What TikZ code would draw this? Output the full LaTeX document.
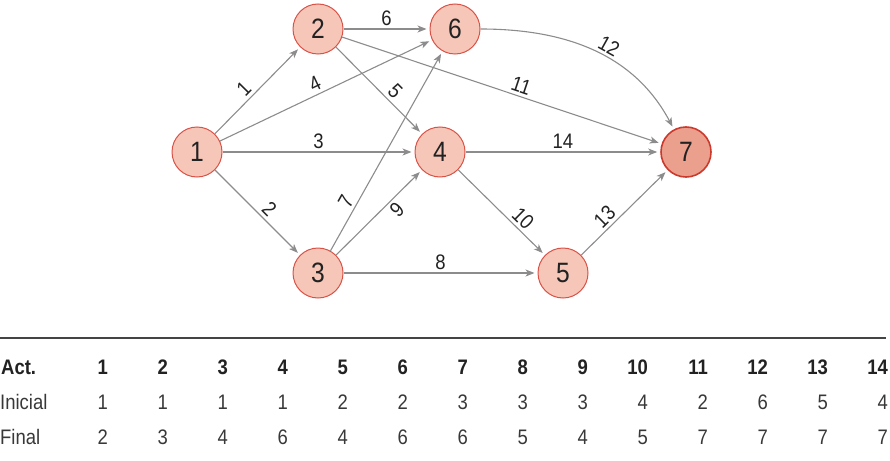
\documentclass[tikz,border=0pt]{standalone}
\usepackage{fontspec}
\setmainfont{Liberation Sans}[FakeStretch=0.88]
\usetikzlibrary{arrows.meta}
\definecolor{nfill}{HTML}{F6C7B8}
\definecolor{nborder}{HTML}{DA5146}
\definecolor{nsevfill}{HTML}{EBA08D}
\definecolor{nsevborder}{HTML}{CC3A2E}
\definecolor{edgec}{HTML}{8C8C8C}
\definecolor{txtc}{HTML}{222222}
\definecolor{rulec}{HTML}{444444}
\begin{document}
\begin{tikzpicture}[x=1pt,y=-1pt,
  vtx/.style={circle, draw=nborder, fill=nfill, line width=1pt, minimum size=50pt, inner sep=0pt, text=txtc, font=\fontsize{28}{28}\selectfont},
  vtxend/.style={vtx, fill=nsevfill, draw=nsevborder, line width=1.6pt},
  arc/.style={draw=edgec, line width=1.1pt, -{Stealth[length=9pt,width=7pt,inset=2.5pt]}, shorten >=3pt},
  lbl/.style={font=\fontsize{21}{21}\selectfont, text=txtc, inner sep=3pt},
  hdr/.style={font=\bfseries\fontsize{21}{21}\selectfont, text=txtc, inner sep=0pt},
  cell/.style={font=\fontsize{21}{21}\selectfont, text=txtc!90, inner sep=0pt}
]
\useasboundingbox (0,0) rectangle (890,460);

\node[vtx] (n1) at (197,152) {1};
\node[vtx] (n2) at (318,29) {2};
\node[vtx] (n6) at (455,29) {6};
\node[vtx] (n4) at (440,152) {4};
\node[vtx] (n3) at (318,273) {3};
\node[vtx] (n5) at (563,273) {5};
\node[vtxend] (n7) at (686,152) {7};

\draw[arc] (n1) -- node[lbl, pos=0.43, above, sloped] {1} (n2);
\draw[arc] (n1) -- node[lbl, pos=0.47, above, sloped] {4} (n6);
\draw[arc] (n1) -- node[lbl, pos=0.5, above] {3} (n4);
\draw[arc] (n1) -- node[lbl, pos=0.55, above, sloped] {2} (n3);
\draw[arc] (n2) -- node[lbl, pos=0.5, above] {6} (n6);
\draw[arc] (n2) -- node[lbl, pos=0.6, above, sloped] {5} (n4);
\draw[arc] (n2) -- node[lbl, pos=0.55, above, sloped] {11} (n7);
\draw[arc] (n6.east) to[out=0, in=118] node[lbl, pos=0.55, above, sloped] {12} (n7);
\draw[arc] (n4) -- node[lbl, pos=0.5, above] {14} (n7);
\draw[arc] (n3) -- node[lbl, pos=0.22, above, sloped] {7} (n6);
\draw[arc] (n3) -- node[lbl, pos=0.62, below, sloped] {9} (n4);
\draw[arc] (n3) -- node[lbl, pos=0.5, above] {8} (n5);
\draw[arc] (n4) -- node[lbl, pos=0.66, above, sloped] {10} (n5);
\draw[arc] (n5) -- node[lbl, pos=0.36, above, sloped] {13} (n7);

% table
\coordinate (rl) at (0,338);
\coordinate (rr) at (886,338);
\draw[rulec, line width=2pt] (rl) -- (rr);

\node[hdr, anchor=west] (hact) at (1,367) {Act.};
\node[cell, anchor=west] (hini) at (0,402) {Inicial};
\node[cell, anchor=west] (hfin) at (0,437) {Final};

\foreach \i/\a/\b [count=\k from 0] in {1/1/2,2/1/3,3/1/4,4/1/6,5/2/4,6/2/6,7/3/6,8/3/5,9/3/4,10/4/5,11/2/7,12/6/7,13/5/7,14/4/7} {
  \node[hdr, anchor=east] (h\i) at ({108+60*\k},367) {\i};
  \node[cell, anchor=east] (a\i) at ({108+60*\k},402) {\a};
  \node[cell, anchor=east] (b\i) at ({108+60*\k},437) {\b};
}
\end{tikzpicture}
\end{document}
